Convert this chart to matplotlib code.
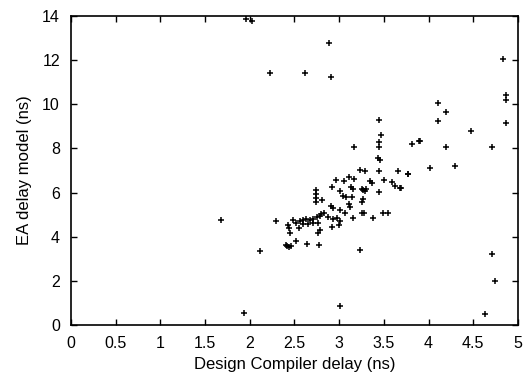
import matplotlib
matplotlib.use("Agg")
import matplotlib.pyplot as plt

# Design Compiler delay (ns) vs EA delay model (ns)
dc_delay = [
    2.89, 2.23, 2.62, 2.91, 1.96, 2.03,
    4.83, 4.87, 4.87, 4.87, 4.71, 4.48, 4.20, 4.10, 4.10, 4.19, 4.02, 4.30, 3.90,
    4.71, 4.74, 4.63, 1.93, 3.01,
    3.77, 3.69, 1.68, 2.11, 2.29, 3.23, 3.45,
    3.47, 3.45, 3.44, 3.17, 3.82, 3.89, 3.43, 3.46,
    3.23, 3.29, 3.44, 3.66, 3.77,
    2.96, 3.05, 3.11, 3.17, 3.34, 3.37, 3.50, 3.59, 3.62, 3.68,
    2.92, 3.01, 3.13, 3.15, 3.25, 3.27, 3.29, 3.30, 3.45,
    2.74, 2.74, 2.74, 2.74, 2.81, 3.04, 3.08, 3.14, 3.27, 3.25,
    3.11, 3.12, 2.91, 2.93, 3.01, 3.06, 3.25, 3.28, 3.15, 3.38, 3.49, 3.55,
    2.83, 2.87, 2.93, 2.97, 3.01, 3.00, 2.92,
    2.48, 2.52, 2.56, 2.60, 2.63, 2.67, 2.71, 2.75, 2.78, 2.80,
    2.60, 2.65, 2.71, 2.76, 2.43, 2.44, 2.45, 2.55, 2.76, 2.78,
    2.52, 2.64, 2.77, 2.40, 2.42, 2.44, 2.46,
]
ea_delay = [
    12.77, 11.40, 11.40, 11.25, 13.85, 13.75,
    12.04, 10.40, 10.20, 9.14, 8.08, 8.80, 9.66, 10.07, 9.25, 8.08, 7.10, 7.22, 8.35,
    3.20, 2.00, 0.48, 0.56, 0.86,
    6.84, 6.19, 4.76, 3.35, 4.71, 3.40, 9.29,
    8.62, 8.27, 8.08, 8.05, 8.22, 8.35, 7.58, 7.48,
    7.02, 6.99, 6.99, 6.98, 6.84,
    6.57, 6.54, 6.69, 6.60, 6.50, 6.42, 6.57, 6.46, 6.31, 6.19,
    6.27, 6.09, 6.23, 6.15, 6.15, 6.12, 6.05, 6.14, 6.01,
    6.12, 5.92, 5.74, 5.59, 5.66, 5.86, 5.78, 5.82, 5.71, 5.59,
    5.47, 5.36, 5.39, 5.29, 5.21, 5.06, 5.09, 5.06, 4.83, 4.83, 5.06, 5.06,
    5.09, 4.91, 4.80, 4.83, 4.71, 4.53, 4.45,
    4.76, 4.64, 4.73, 4.76, 4.79, 4.76, 4.79, 4.88, 4.94, 5.03,
    4.58, 4.58, 4.61, 4.64, 4.53, 4.38, 4.18, 4.38, 4.18, 4.30,
    3.82, 3.67, 3.62, 3.62, 3.59, 3.55, 3.60,
]

x_ticks = [0, 0.5, 1, 1.5, 2, 2.5, 3, 3.5, 4, 4.5, 5]
x_tick_labels = ["0", "0.5", "1", "1.5", "2", "2.5", "3", "3.5", "4", "4.5", "5"]
y_ticks = [0, 2, 4, 6, 8, 10, 12, 14]

plt.rcParams['font.family'] = ['Liberation Sans', 'DejaVu Sans']

fig = plt.figure(figsize=(5.24, 3.79), dpi=100)
ax = fig.add_axes([0.1355, 0.1425, 0.853, 0.8155])

ax.plot(dc_delay, ea_delay, linestyle='none', marker='+', color='black',
        markersize=5, markeredgewidth=1.1)

ax.set_xlim(0, 5)
ax.set_ylim(0, 14)
ax.set_xticks(x_ticks)
ax.set_xticklabels(x_tick_labels)
ax.set_yticks(y_ticks)
ax.tick_params(direction='in', top=True, right=True, length=4, width=1,
               labelsize=11.5, pad=8, colors='black')
for s in ax.spines.values():
    s.set_linewidth(1.2)
    s.set_color('black')

ax.set_xlabel("Design Compiler delay (ns)", fontsize=12, labelpad=4)
ax.set_ylabel("EA delay model (ns)", fontsize=12, labelpad=7)

fig.savefig("out.png", dpi=100)
